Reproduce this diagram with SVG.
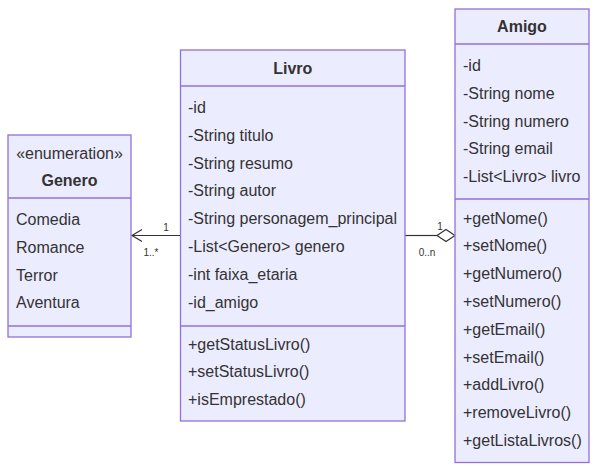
<svg xmlns="http://www.w3.org/2000/svg" width="598" height="471" viewBox="0 0 598 471">
<defs>
<style>
.box{fill:#ECECFF;stroke:#9370DB;stroke-width:1.3}
.div{stroke:#9370DB;stroke-width:1.3}
text{font-family:"Liberation Sans",Arial,sans-serif;font-size:16px;fill:#333;dominant-baseline:central}
.t{font-weight:bold;text-anchor:middle}
.s{text-anchor:middle}
.lbl{font-size:10px;fill:#333}
.edge{stroke:#333;stroke-width:1.2;fill:none}
</style>
</defs>
<g id="edges">
<line class="edge" x1="180" y1="235.5" x2="132" y2="235.5"/>
<path class="edge" d="M142,229.5 L132,235.5 L142,241.5" stroke-width="1.6"/>
<text class="lbl" x="166" y="227" text-anchor="middle">1</text>
<text class="lbl" x="151" y="252" text-anchor="middle">1..*</text>
<line class="edge" x1="405" y1="235.5" x2="437" y2="235.5"/>
<path d="M437,235.5 L446,229.5 L455,235.5 L446,241.5 Z" fill="#fff" stroke="#333" stroke-width="1.2"/>
<text class="lbl" x="440" y="226" text-anchor="middle">1</text>
<text class="lbl" x="427" y="252" text-anchor="middle">0..n</text>
</g>
<g id="Genero">
<rect class="box" x="8" y="135" width="123" height="202"/>
<line class="div" x1="8" y1="198" x2="131" y2="198"/>
<line class="div" x1="8" y1="326" x2="131" y2="326"/>
<text class="s" x="69.5" y="153">«enumeration»</text>
<text class="t" x="69.5" y="180">Genero</text>
<text x="16" y="219.5">Comedia</text>
<text x="16" y="247">Romance</text>
<text x="16" y="275">Terror</text>
<text x="16" y="302.5">Aventura</text>
</g>
<g id="Livro">
<rect class="box" x="180.5" y="50" width="224.5" height="371"/>
<line class="div" x1="180.5" y1="86" x2="405" y2="86"/>
<line class="div" x1="180.5" y1="326" x2="405" y2="326"/>
<text class="t" x="292.75" y="68">Livro</text>
<text x="188" y="107.5">-id</text>
<text x="188" y="135.3">-String titulo</text>
<text x="188" y="163.1">-String resumo</text>
<text x="188" y="190.9">-String autor</text>
<text x="188" y="218.7">-String personagem_principal</text>
<text x="188" y="246.5">-List&lt;Genero&gt; genero</text>
<text x="188" y="274.3">-int faixa_etaria</text>
<text x="188" y="302.1">-id_amigo</text>
<text x="188" y="344">+getStatusLivro()</text>
<text x="188" y="371.5">+setStatusLivro()</text>
<text x="188" y="399">+isEmprestado()</text>
</g>
<g id="Amigo">
<rect class="box" x="455" y="9" width="134" height="453.5"/>
<line class="div" x1="455" y1="44" x2="589" y2="44"/>
<line class="div" x1="455" y1="199" x2="589" y2="199"/>
<text class="t" x="522" y="26.5">Amigo</text>
<text x="463" y="65.5">-id</text>
<text x="463" y="93.3">-String nome</text>
<text x="463" y="121.1">-String numero</text>
<text x="463" y="148.9">-String email</text>
<text x="463" y="176.7">-List&lt;Livro&gt; livro</text>
<text x="463" y="218">+getNome()</text>
<text x="463" y="245.8">+setNome()</text>
<text x="463" y="273.6">+getNumero()</text>
<text x="463" y="301.4">+setNumero()</text>
<text x="463" y="329.2">+getEmail()</text>
<text x="463" y="357">+setEmail()</text>
<text x="463" y="384.8">+addLivro()</text>
<text x="463" y="412.6">+removeLivro()</text>
<text x="463" y="440.4">+getListaLivros()</text>
</g>
</svg>
